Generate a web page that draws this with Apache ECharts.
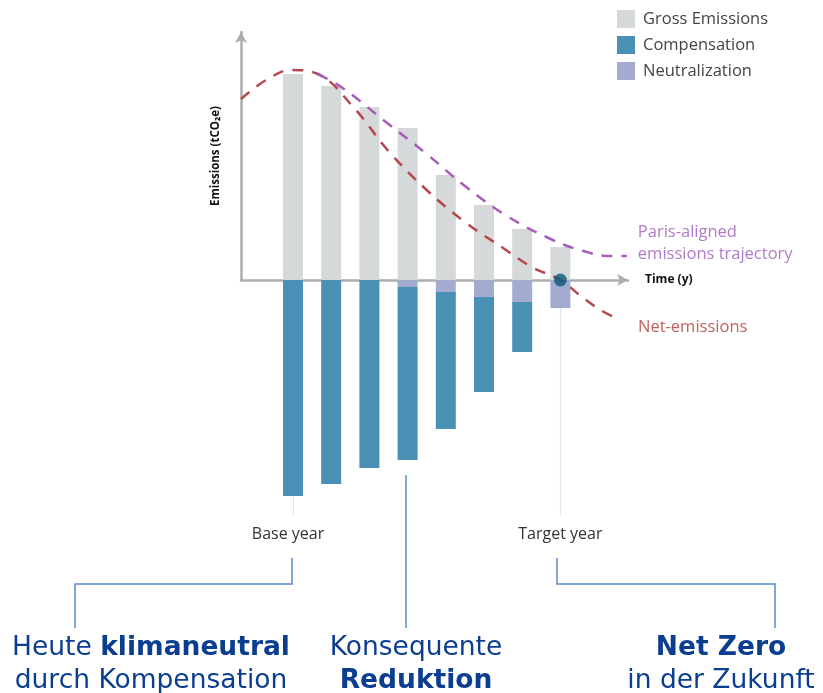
<!DOCTYPE html>
<html>
<head>
<meta charset="utf-8">
<script src="https://cdn.jsdelivr.net/npm/echarts@6/dist/echarts.min.js"></script>
<style>
  html, body { margin: 0; padding: 0; background: #fff; }
  #chart { width: 823px; height: 693px; }
</style>
</head>
<body>
<div id="chart"></div>
<script>
// one bar per time step
const steps = ['t1', 't2', 't3', 't4', 't5', 't6', 't7', 't8']
const grossEmissions = [103, 97, 86.5, 76, 52.5, 37.5, 25.5, 16.5]
const neutralization = [0, 0, 0, -3.5, -6, -8.5, -11, -14]
const compensation = [-108, -102, -94, -86.5, -68.5, -47.5, -25, 0]

// dashed curves (x in step units, step 1 = first bar)
const netX = [-0.36, 0.3, 0.97, 1.65, 2.6, 3.5, 4.5, 5.5, 6.5, 7.25, 8, 8.5, 9.05, 9.56]
const netY = [90.5, 100, 105, 103, 86, 64.5, 45, 29, 16, 6.5, 0, -7.5, -15, -20]
const parisX = [1.65, 2.3, 3.4, 4.5, 5.5, 6.6, 7.8, 8.6, 9.3, 9.74]
const parisY = [103, 96, 79.5, 63, 47, 32, 20, 14.5, 12, 12]

const netZeroPoint = [8, 0]
const guideEnd = -117.5

const pairs = (xs, ys) => xs.map((x, i) => [x, ys[i]])

const chart = echarts.init(document.getElementById('chart'))

const axisGrey = '#adadad'
const textBlue = '#0b3d91'
const lineBlue = '#5b8bd0'
const bodyFont = 'DejaVu Sans'
const labelFont = 'Open Sans'

const bottomText = (x, text) => ({
  type: 'text', x: x, y: 632,
  style: {
    text: text,
    align: 'center', verticalAlign: 'top', lineHeight: 33,
    font: '26.5px "' + bodyFont + '"', fill: textBlue,
    rich: { b: { fontSize: 26.5, fontWeight: 'bold', fontFamily: bodyFont, fill: textBlue, lineHeight: 33 } }
  }
})

const option = {
  animation: false,
  backgroundColor: '#fff',
  textStyle: { fontFamily: labelFont },
  legend: {
    data: ['Gross Emissions', 'Compensation', 'Neutralization'],
    orient: 'vertical',
    left: 612,
    top: 5,
    itemWidth: 18,
    itemHeight: 18,
    itemGap: 8,
    icon: 'rect',
    textStyle: { fontSize: 16.5, color: '#444', fontFamily: labelFont, padding: [0, 0, 0, 3] }
  },
  grid: [
    { left: 241, width: 387, top: 32, height: 496 },   // curves + x axis
    { left: 241, width: 387, top: 32, height: 248 },   // y axis (positive half only)
    { left: 273.9, width: 305.6, top: 32, height: 496 } // bars
  ],
  xAxis: [
    {
      type: 'value', gridIndex: 0, min: -0.36, max: 9.77,
      axisLine: {
        show: true, onZero: true, symbol: ['none', 'arrow'], symbolSize: [9, 11],
        lineStyle: { color: axisGrey, width: 2.5 }
      },
      axisTick: { show: false }, axisLabel: { show: false }, splitLine: { show: false },
      name: 'Time (y)', nameLocation: 'end', nameGap: 17,
      nameTextStyle: { fontSize: 12, fontWeight: 'bold', color: '#111', fontFamily: labelFont }
    },
    { type: 'value', gridIndex: 1, min: -0.36, max: 9.77, show: false },
    { type: 'category', gridIndex: 2, data: steps, show: false }
  ],
  yAxis: [
    { type: 'value', gridIndex: 0, min: -124, max: 124, show: false },
    {
      type: 'value', gridIndex: 1, min: 0, max: 124,
      axisLine: {
        show: true, onZero: false, symbol: ['none', 'arrow'], symbolSize: [9, 11],
        lineStyle: { color: axisGrey, width: 2.5 }
      },
      axisTick: { show: false }, axisLabel: { show: false }, splitLine: { show: false },
      name: 'Emissions (tCO₂e)', nameLocation: 'middle', nameRotate: 90, nameGap: 19,
      nameTextStyle: { fontSize: 11.5, fontWeight: 'bold', color: '#111', fontFamily: labelFont }
    },
    { type: 'value', gridIndex: 2, min: -124, max: 124, show: false }
  ],
  series: [
    {
      name: 'Gross Emissions', type: 'bar', stack: 'e', barWidth: 20,
      xAxisIndex: 2, yAxisIndex: 2,
      data: grossEmissions,
      itemStyle: { color: '#d5d9d9' }
    },
    {
      name: 'Neutralization', type: 'bar', stack: 'e', barWidth: 20,
      xAxisIndex: 2, yAxisIndex: 2,
      data: neutralization,
      itemStyle: { color: '#a4abd1' }
    },
    {
      name: 'Compensation', type: 'bar', stack: 'e', barWidth: 20,
      xAxisIndex: 2, yAxisIndex: 2,
      data: compensation,
      itemStyle: { color: '#4a8fb4' },
      markLine: {
        silent: true, symbol: 'none',
        lineStyle: { color: '#dde5e8', width: 1.2, type: 'solid' },
        label: { show: true, position: 'end', distance: 11, fontSize: 16, color: '#333', fontFamily: labelFont },
        data: [
          [{ coord: [steps[0], compensation[0]] }, { coord: [steps[0], guideEnd], label: { formatter: 'Base year', offset: [-5, 0] } }],
          [{ coord: [steps[7], neutralization[7]] }, { coord: [steps[7], guideEnd], label: { formatter: 'Target year' } }]
        ]
      }
    },
    {
      name: 'Net-emissions', type: 'line', smooth: 0.4, showSymbol: false, z: 4,
      data: pairs(netX, netY),
      lineStyle: { color: '#b5474d', width: 2.5, type: [11, 9] },
      endLabel: {
        show: true, formatter: 'Net-emissions', offset: [10, 7],
        fontSize: 16.5, color: '#c0605c', fontFamily: labelFont
      }
    },
    {
      name: 'Paris-aligned', type: 'line', smooth: 0.4, showSymbol: false, z: 4,
      data: pairs(parisX, parisY),
      lineStyle: { color: '#a65cb8', width: 2.5, type: [11, 9] },
      endLabel: {
        show: true, formatter: 'Paris-aligned\nemissions trajectory', offset: [3, -13],
        fontSize: 16.5, lineHeight: 22, color: '#b27ac6', fontFamily: labelFont
      }
    },
    {
      name: 'Net zero', type: 'scatter', symbolSize: 13, z: 5,
      data: [netZeroPoint],
      itemStyle: { color: '#09577a' }
    }
  ],
  graphic: [
    { type: 'polyline', shape: { points: [[292, 558], [292, 584], [75, 584], [75, 628]] },
      style: { stroke: lineBlue, lineWidth: 1.5, fill: null } },
    { type: 'polyline', shape: { points: [[406, 475], [406, 628]] },
      style: { stroke: lineBlue, lineWidth: 1.5, fill: null } },
    { type: 'polyline', shape: { points: [[557, 558], [557, 584], [775, 584], [775, 628]] },
      style: { stroke: lineBlue, lineWidth: 1.5, fill: null } },
    bottomText(151, 'Heute {b|klimaneutral}\ndurch Kompensation'),
    bottomText(416, 'Konsequente\n{b|Reduktion}'),
    bottomText(721, '{b|Net Zero}\nin der Zukunft')
  ]
}

chart.setOption(option)
</script>
</body>
</html>
